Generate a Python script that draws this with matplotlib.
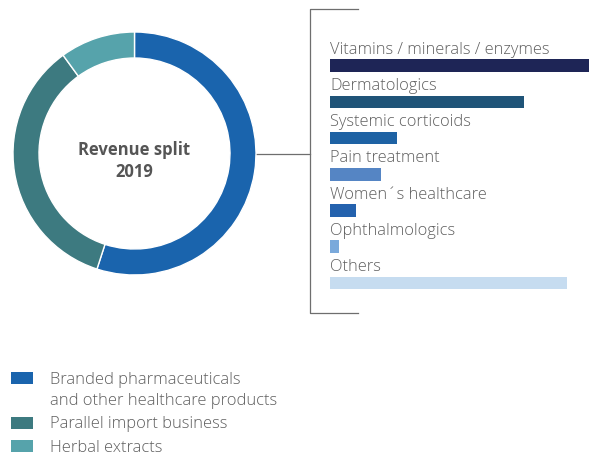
import numpy as np
import matplotlib.pyplot as plt
from matplotlib.patches import Rectangle

plt.rcParams["font.family"] = ["Open Sans", "DejaVu Sans"]

W, H = 589, 455
TEXT_GREY = "#5f5f5f"
LINE_GREY = "#6e6e6e"

# donut: revenue split 2019 (%)
segLabels = ["Branded pharmaceuticals\nand other healthcare products",
             "Parallel import business",
             "Herbal extracts"]
segValues = [55, 35, 10]
segColors = ["#1a64ad", "#3d7a80", "#56a3ab"]

# bars: branded pharmaceuticals by indication (relative size)
barLabels = ["Vitamins / minerals / enzymes", "Dermatologics", "Systemic corticoids",
             "Pain treatment", "Women\u00b4s healthcare", "Ophthalmologics", "Others"]
barValues = [100, 75, 26, 19.7, 10, 3.5, 91.5]
barColors = ["#1e2556", "#1f5478", "#1e62a4", "#5585c4", "#2462ae", "#7aa9db", "#c6dcf0"]


def FigRect(x0, y0, x1, y1):
    # pixel box (top-left origin) -> figure fraction
    return [x0 / W, 1 - y1 / H, (x1 - x0) / W, (y1 - y0) / H]


fig = plt.figure(figsize=(W / 100, H / 100), dpi=100)

# overlay for connector, bracket and legend
over = fig.add_axes([0, 0, 1, 1])
over.set_xlim(0, W)
over.set_ylim(H, 0)
over.axis("off")
over.plot([256, 310], [154, 154], color=LINE_GREY, lw=0.9)
over.plot([358, 310, 310, 358], [9, 9, 313, 313], color=LINE_GREY, lw=0.9)

# legend, one baseline per text line
baseline = 384
for lbl, col in zip(segLabels, segColors):
    lines = lbl.split("\n")
    over.add_patch(Rectangle((11, baseline - 12), 22, 12, color=col, lw=0))
    for k, line in enumerate(lines):
        over.text(50, baseline + k * 21, line, color=TEXT_GREY, fontsize=11.9,
                  va="baseline", fontweight="light")
    baseline += 21 * len(lines) + 2.5

# donut
ax = fig.add_axes(FigRect(13, 32, 256, 275))
ax.pie(segValues, colors=segColors, startangle=90, counterclock=False,
       wedgeprops=dict(width=0.214, edgecolor="white", linewidth=1))
ax.set_xlim(-1, 1)
ax.set_ylim(-1, 1)
ax.set_aspect("equal")
ax.text(0, -0.065, "Revenue split\n2019", ha="center", va="center", fontsize=12,
        fontweight="bold", color="#555555", linespacing=1.3)

# bars
bx = fig.add_axes(FigRect(330, 47.4, 589, 301.1))
ypos = np.arange(len(barValues))
bx.barh(ypos, barValues, height=0.345, color=barColors)
bx.set_xlim(0, max(barValues))
bx.set_ylim(len(barValues) - 0.5, -0.5)
bx.axis("off")
for i, lbl in enumerate(barLabels):
    bx.text(0, i - 0.33, lbl, color=TEXT_GREY, fontsize=11.8, va="baseline",
            fontweight="light", clip_on=False)

fig.savefig("out.png", dpi=100)
